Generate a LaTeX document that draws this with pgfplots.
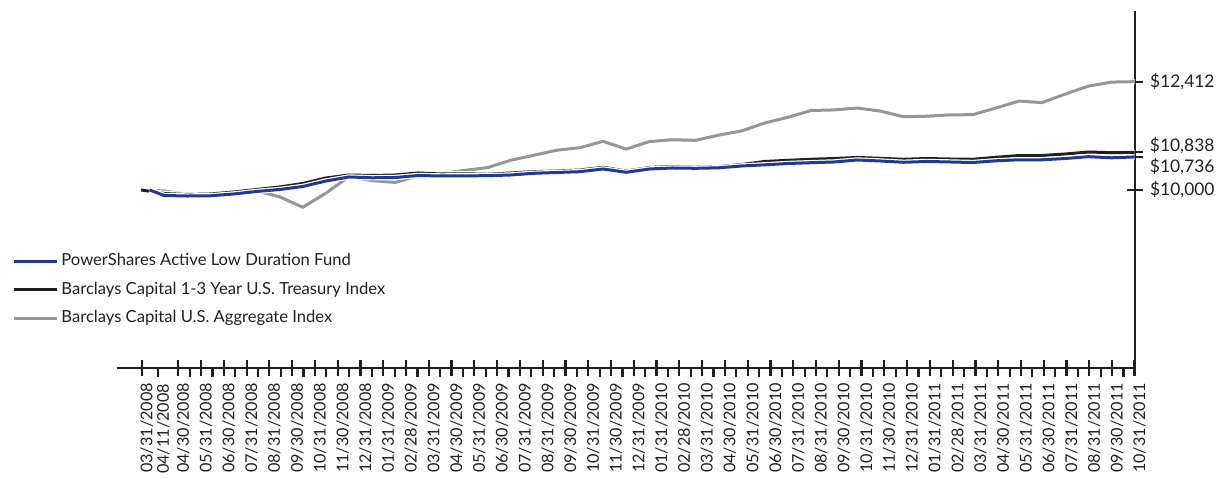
\documentclass[border=0pt]{standalone}
\usepackage{fontspec}
\setmainfont{Lato}
\usepackage{pgfplots}
\usepackage{pgfplotstable}
\pgfplotsset{compat=1.18}
\definecolor{fundblue}{RGB}{30,58,150}
\definecolor{idxblack}{RGB}{35,31,32}
\definecolor{idxgray}{RGB}{150,150,150}
\pgfplotstableread{
m v
0 10000
1 9979
2 9903
3 9895
4 9887
5 9981
6 9848
7 9615
8 9928
9 10298
10 10207
11 10169
12 10312
13 10362
14 10437
15 10498
16 10662
17 10773
18 10886
19 10942
20 11084
21 10911
22 11078
23 11119
24 11106
25 11221
26 11316
27 11493
28 11619
29 11770
30 11783
31 11825
32 11758
33 11631
34 11643
35 11673
36 11677
37 11826
38 11980
39 11946
40 12136
41 12313
42 12403
43 12412
}\aggtable
\pgfplotstableread{
m v
0 10000
1 9922
2 9900
3 9911
4 9955
5 10011
6 10067
7 10145
8 10267
9 10334
10 10323
11 10334
12 10379
13 10356
14 10361
15 10350
16 10379
17 10408
18 10423
19 10445
20 10506
21 10423
22 10501
23 10523
24 10506
25 10523
26 10568
27 10635
28 10661
29 10684
30 10701
31 10724
32 10706
33 10684
34 10701
35 10690
36 10684
37 10728
38 10768
39 10768
40 10802
41 10846
42 10831
43 10838
}\treastable
\pgfplotstableread{
m v
0.37 10000
1 9878
2 9866
3 9871
4 9911
5 9967
6 10011
7 10078
8 10200
9 10290
10 10272
11 10278
12 10323
13 10312
14 10316
15 10318
16 10334
17 10372
18 10390
19 10408
20 10468
21 10394
22 10468
23 10490
24 10483
25 10494
26 10535
27 10561
28 10590
29 10608
30 10624
31 10668
32 10646
33 10617
34 10635
35 10624
36 10612
37 10650
38 10673
39 10673
40 10701
41 10742
42 10717
43 10736
}\fundtable
\begin{document}
\begin{tikzpicture}
\useasboundingbox (-58.5pt,-55pt) rectangle (552pt,184pt);
\begin{axis}[
  at={(0pt,0pt)}, anchor=south west,
  scale only axis, width=509pt, height=178.5pt,
  xmin=-1.038, xmax=43.02,
  ymin=6036, ymax=13986,
  axis x line*=bottom, axis y line*=right,
  axis line style={idxblack, line width=1.2pt},
  y axis line style={shorten <=-3.5pt},
  every tick/.style={idxblack, line width=1.1pt},
  tick align=center,
  major tick length=8pt,
  xtick={0.03,1.614,2.600,3.585,4.571,5.557,6.543,7.528,8.514,9.500,10.485,11.471,12.457,13.443,14.428,15.414,16.400,17.385,18.371,19.357,20.343,21.328,22.314,23.300,24.285,25.271,26.257,27.243,28.228,29.214,30.200,31.186,32.171,33.157,34.143,35.128,36.114,37.100,38.086,39.071,40.057,41.043,42.028,43.0},
  xticklabels={03/31/2008,04/30/2008,05/31/2008,06/30/2008,07/31/2008,08/31/2008,09/30/2008,10/31/2008,11/30/2008,12/31/2008,01/31/2009,02/28/2009,03/31/2009,04/30/2009,05/31/2009,06/30/2009,07/31/2009,08/31/2009,09/30/2009,10/31/2009,11/30/2009,12/31/2009,01/31/2010,02/28/2010,03/31/2010,04/30/2010,05/31/2010,06/30/2010,07/31/2010,08/31/2010,09/30/2010,10/31/2010,11/30/2010,12/31/2010,01/31/2011,02/28/2011,03/31/2011,04/30/2011,05/31/2011,06/30/2011,07/31/2011,08/31/2011,09/30/2011,10/31/2011},
  extra x ticks={0.75,2.107,3.093,4.078,5.064,6.050,7.036,8.021,9.007,9.993,10.978,11.964,12.950,13.936,14.921,15.907,16.893,17.878,18.864,19.850,20.836,21.821,22.807,23.793,24.778,25.764,26.750,27.736,28.721,29.707,30.693,31.679,32.664,33.650,34.636,35.621,36.607,37.593,38.579,39.564,40.550,41.536,42.521},
  extra x tick labels={04/11/2008},
  extra x tick style={tick align=outside, major tick length=4.5pt},
  x tick label style={rotate=90, anchor=east, yshift=-2.5pt, font=\fontsize{8.1}{10}\selectfont, text=idxblack},
  ytick={10000,10736,10838,12412},
  yticklabels={{\$10,000},{},{},{\$12,412}},
  y tick label style={anchor=west, font=\fontsize{8.7}{10}\selectfont, text=idxblack},
  clip=false,
  legend style={at={(axis description cs:-0.1031,0.3305)}, anchor=north west, draw=none, fill=none,
    font=\fontsize{8.3}{10}\selectfont, text=idxblack, row sep=3.7pt, inner sep=0pt,
    nodes={inner sep=1.5pt}},
  legend cell align=left,
  legend image code/.code={\draw[#1] (0pt,0pt) -- (21.5pt,0pt);},
  reverse legend,
]
\addplot[white, line width=2.7pt, forget plot] table[x=m,y=v] {\aggtable};
\addplot[idxgray, line width=1.5pt] table[x=m,y=v] {\aggtable};
\addlegendentry{Barclays Capital U.S. Aggregate Index}
\addplot[white, line width=2.7pt, forget plot] table[x=m,y=v] {\treastable};
\addplot[idxblack, line width=1.5pt] table[x=m,y=v] {\treastable};
\addlegendentry{Barclays Capital 1-3 Year U.S. Treasury Index}
\addplot[white, line width=2.7pt, forget plot] table[x=m,y=v] {\fundtable};
\addplot[fundblue, line width=1.5pt] table[x=m,y=v] {\fundtable};
\addlegendentry{PowerShares Active Low Duration Fund}
\node[anchor=west, font=\fontsize{8.7}{10}\selectfont, text=idxblack, inner sep=0pt] at (axis cs:43.0,10838) [xshift=7.5pt, yshift=3.2pt] {\$10,838};
\node[anchor=west, font=\fontsize{8.7}{10}\selectfont, text=idxblack, inner sep=0pt] at (axis cs:43.0,10736) [xshift=7.5pt, yshift=-4.6pt] {\$10,736};
\end{axis}
\end{tikzpicture}
\end{document}
